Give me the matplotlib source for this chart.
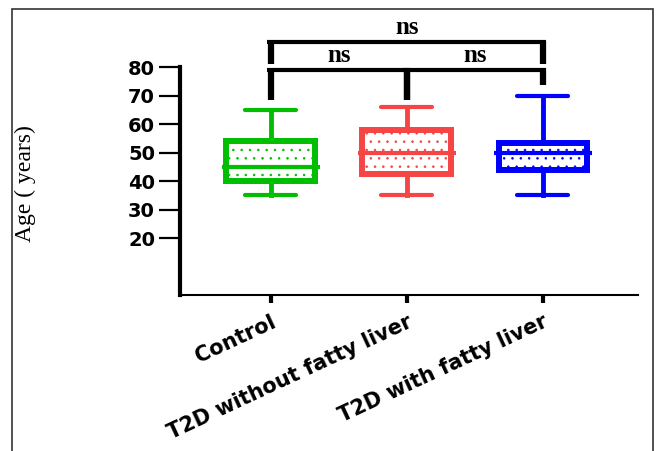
import matplotlib
matplotlib.use("Agg")
import matplotlib.pyplot as plt
from matplotlib.patches import Rectangle

# ---- data ----
groups = ["Control", "T2D without fatty liver", "T2D with fatty liver"]
whisker_low = [35, 35, 35]
q1_values = [40, 42.5, 44]
medians = [45, 50, 50]
q3_values = [54, 58, 53.5]
whisker_high = [65, 66, 70]
colors = ["#00BE00", "#F54545", "#0000FF"]
y_ticks = [20, 30, 40, 50, 60, 70, 80]

# significance brackets: (left group, right group, bar height, left foot, right foot, label)
brackets = [
    (1, 2, 79, 68.5, 68.5, "ns"),
    (2, 3, 79, 68.5, 73.7, "ns"),
    (1, 3, 88.8, 81.2, 81.2, "ns"),
]

plt.rcParams["hatch.linewidth"] = 0.6

fig = plt.figure(figsize=(6.58, 4.51), dpi=100)
ax = fig.add_axes([0.2736, 0.3459, 0.6960, 0.5055])

stats = []
for i, g in enumerate(groups):
    stats.append(dict(label=g, whislo=whisker_low[i], q1=q1_values[i], med=medians[i],
                      q3=q3_values[i], whishi=whisker_high[i], fliers=[]))

positions = list(range(1, len(groups) + 1))
bp = ax.bxp(stats, positions=positions, widths=0.65, capwidths=0.375,
            patch_artist=True, showfliers=False)

for i, c in enumerate(colors):
    box = bp["boxes"][i]
    box.set_facecolor("white")
    box.set_edgecolor(c)
    box.set_linewidth(4.3)
    box.set_hatch("..")
    box.set_joinstyle("miter")
    med = bp["medians"][i]
    med.set_color(c)
    med.set_linewidth(3)
    xs = med.get_xdata()
    mid = (xs[0] + xs[1]) / 2
    med.set_xdata([mid - 0.36, mid + 0.36])
    for ln in bp["whiskers"][2 * i:2 * i + 2]:
        ln.set_color(c)
        ln.set_linewidth(3.5)
    for ln in bp["caps"][2 * i:2 * i + 2]:
        ln.set_color(c)
        ln.set_linewidth(3)
        ln.set_solid_capstyle("round")

# brackets
for x1, x2, h, f1, f2, lab in brackets:
    ax.plot([x1 - 0.025, x2 + 0.025], [h, h], color="black", lw=3, clip_on=False,
            solid_capstyle="butt")
    ax.plot([x1, x1], [f1, h + 0.5], color="black", lw=4.5, clip_on=False,
            solid_capstyle="butt")
    ax.plot([x2, x2], [f2, h + 0.5], color="black", lw=4.5, clip_on=False,
            solid_capstyle="butt")
    ax.text((x1 + x2) / 2, h + 5.2, lab, ha="center", va="center",
            fontsize=18, fontweight="bold", family="Liberation Serif",
            clip_on=False)

ax.set_xlim(0.334, 3.70)
ax.set_ylim(0, 80)
ax.set_yticks(y_ticks)
ax.set_yticklabels([str(t) for t in y_ticks], fontsize=14, fontweight="bold",
                   family="DejaVu Sans")
ax.set_xticks(positions)
ax.set_xticklabels(groups, rotation=25, ha="right", rotation_mode="anchor",
                   fontsize=15, fontweight="bold", family="DejaVu Sans")

ax.tick_params(axis="y", direction="out", length=15, width=1.6, pad=3)
ax.tick_params(axis="x", direction="out", length=6, width=3, pad=6)

ax.spines["top"].set_visible(False)
ax.spines["right"].set_visible(False)
ax.spines["left"].set_linewidth(3)
ax.spines["bottom"].set_linewidth(1.5)

ax.set_ylabel("Age ( years)", fontsize=17, family="Liberation Serif")
ax.yaxis.set_label_coords(-0.314, 0.49)

# outer frame of the figure
fig.patches.append(Rectangle((0.0175, -0.05), 0.975, 1.030, transform=fig.transFigure,
                             fill=False, edgecolor="#333333", lw=1.2))

fig.savefig("out.png", dpi=100)
